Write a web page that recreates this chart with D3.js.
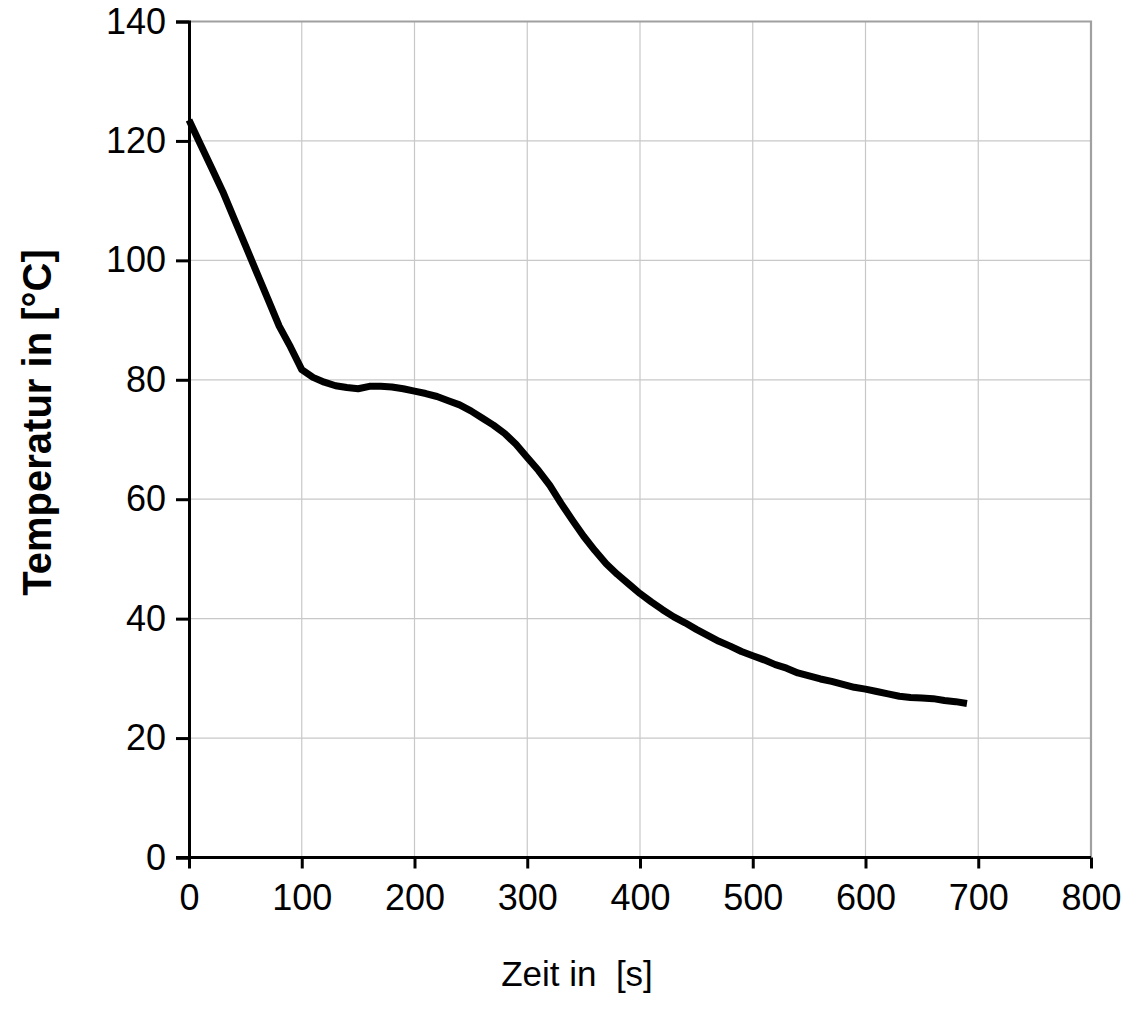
<!DOCTYPE html>
<html><head><meta charset="utf-8">
<script src="https://cdn.jsdelivr.net/npm/d3@7"></script>
<style>body{margin:0;background:#fff}svg{display:block}text{font-family:"Liberation Sans",Arial,sans-serif}</style>
</head><body><svg id="c" width="1128" height="1017"></svg>
<script>
const timeS = [0,10,20,30,40,50,60,70,80,90,100,110,120,130,140,150,160,170,180,190,200,210,220,230,240,250,260,270,280,290,300,310,320,330,340,350,360,370,380,390,400,410,420,430,440,450,460,470,480,490,500,510,520,530,540,550,560,570,580,590,600,610,620,630,640,650,660,670,680,690];
const tempC = [123.5,119.5,115.5,111.5,107,102.5,98,93.5,89,85.5,81.7,80.4,79.6,79,78.7,78.5,78.9,78.9,78.8,78.5,78.1,77.7,77.2,76.5,75.8,74.8,73.6,72.4,71,69.2,67,64.8,62.3,59.3,56.5,53.8,51.4,49.2,47.4,45.8,44.2,42.8,41.5,40.3,39.3,38.2,37.2,36.2,35.4,34.5,33.8,33.1,32.3,31.7,30.9,30.4,29.9,29.5,29,28.5,28.2,27.8,27.4,27,26.8,26.7,26.6,26.3,26.1,25.8];
const xTicks = [0,100,200,300,400,500,600,700,800];
const yTicks = [0,20,40,60,80,100,120,140];
const xTitle = "Zeit in  [s]";
const yTitle = "Temperatur in [°C]";

const svg = d3.select("#c");
const L = 189, R = 1091, T = 21.5, B = 857.5;
const x = d3.scaleLinear().domain([0,800]).range([L,R]);
const y = d3.scaleLinear().domain([0,140]).range([B,T]);

// gridlines
svg.append("g").selectAll("line").data(xTicks.slice(1,-1)).join("line")
  .attr("x1",d=>x(d)).attr("x2",d=>x(d)).attr("y1",T).attr("y2",B)
  .attr("stroke","#c8c8c8").attr("stroke-width",1.2);
svg.append("g").selectAll("line").data(yTicks.slice(1,-1)).join("line")
  .attr("y1",d=>y(d)).attr("y2",d=>y(d)).attr("x1",L).attr("x2",R)
  .attr("stroke","#c8c8c8").attr("stroke-width",1.2);
// top and right frame
svg.append("path").attr("d",`M${L},${T}H${R}V${B}`).attr("fill","none")
  .attr("stroke","#a0a0a0").attr("stroke-width",2.2);

// line
const line = d3.line().x((d,i)=>x(timeS[i])).y(d=>y(d)).curve(d3.curveLinear);
svg.append("path").datum(tempC).attr("d",line).attr("fill","none")
  .attr("stroke","#000").attr("stroke-width",7).attr("stroke-linejoin","round");

// axes
const xAxis = d3.axisBottom(x).tickValues(xTicks).tickSize(11).tickPadding(16).tickFormat(d3.format("d"));
const gx = svg.append("g").attr("transform",`translate(0,${B})`).call(xAxis);
const yAxis = d3.axisLeft(y).tickValues(yTicks).tickSize(13).tickPadding(10).tickFormat(d3.format("d"));
const gy = svg.append("g").attr("transform",`translate(${L},0)`).call(yAxis);
[gx,gy].forEach(g=>{
  g.select(".domain").attr("stroke","#000").attr("stroke-width",3);
  g.selectAll(".tick line").attr("stroke","#000").attr("stroke-width",3);
  g.selectAll(".tick text").attr("fill","#000").style("font-size","36px").style("font-family","'Liberation Sans',Arial,sans-serif");
});
gx.select(".domain").attr("d",`M${L-13},0H${R}`);

svg.append("text").attr("x",(L+R)/2-63).attr("y",986).attr("text-anchor","middle")
  .style("font-size","35px").style("white-space","pre").attr("fill","#000").text(xTitle);
svg.append("text").attr("transform",`translate(51,${(T+B)/2 - 17})rotate(-90)`).attr("text-anchor","middle")
  .style("font-size","40px").style("font-weight","bold").attr("fill","#000").text(yTitle);
</script></body></html>
